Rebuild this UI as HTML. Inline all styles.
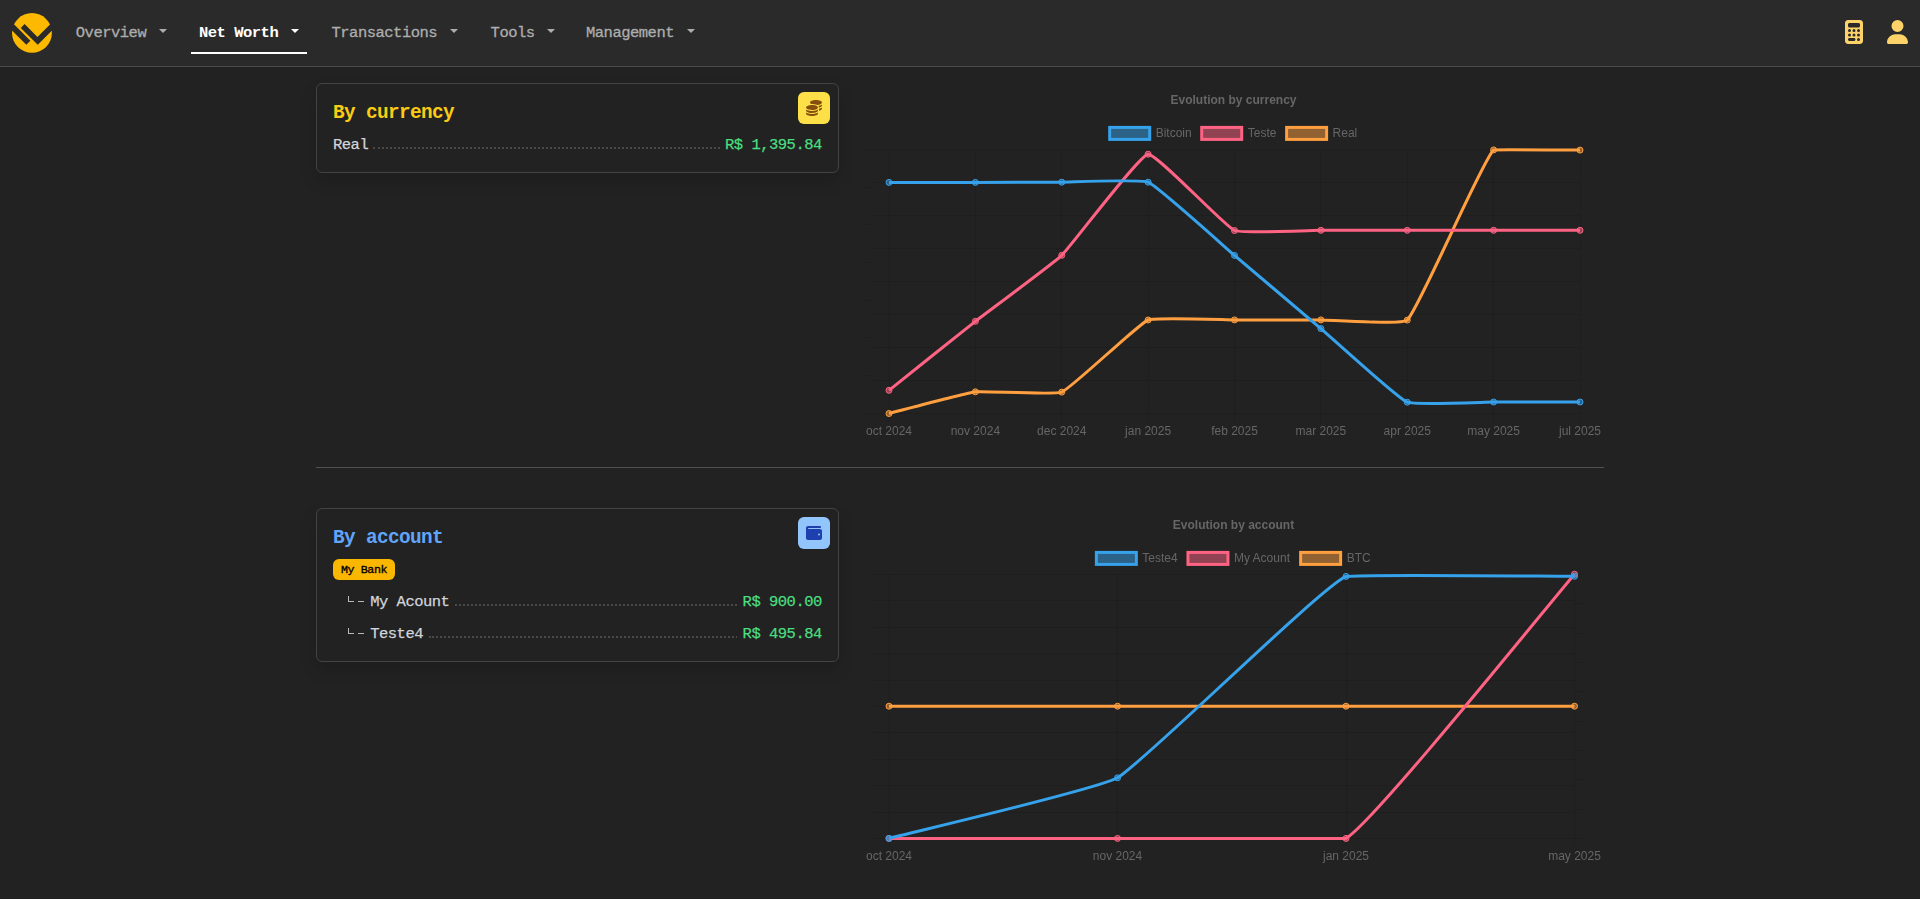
<!DOCTYPE html>
<html lang="en"><head><meta charset="utf-8"><title>Net Worth</title>
<style>
*{box-sizing:border-box}
html,body{margin:0;padding:0}
body{width:1920px;height:899px;overflow:hidden;position:relative;background:#222222;font-family:"Liberation Mono",monospace;font-size:15.5px;letter-spacing:-0.5px;color:#d1d5db}
.abs{position:absolute}
nav{position:absolute;left:0;top:0;width:1920px;height:67px;background:#2a2a2a;border-bottom:1px solid #4a4a4a}
.nl{position:absolute;top:23px;height:20px;line-height:20px;white-space:pre;color:#adadad;font-size:15.5px;-webkit-text-stroke:0.3px #adadad}
.nl.act{color:#fff;font-weight:bold;-webkit-text-stroke:0}
.caret{position:absolute;top:29px;width:0;height:0;border-left:4.8px solid transparent;border-right:4.8px solid transparent;border-top:4.8px solid #adadad}
.caret.act{border-top-color:#fff}
.card{position:absolute;left:316px;width:523px;border:1px solid #434343;border-radius:6px;background:#222222;box-shadow:0 8px 16px rgba(0,0,0,.15)}
.h5{position:absolute;left:333px;font-size:19.4px;letter-spacing:-0.64px;font-weight:bold;line-height:24px;white-space:pre}
.ib{position:absolute;left:798px;width:32px;height:32px;border-radius:6px}
.row{position:absolute;height:20px;line-height:20px;white-space:pre;font-size:15.5px;-webkit-text-stroke:0.25px currentColor}
.amt{color:#4ade80}
.dots{position:absolute;height:2px;background-image:repeating-linear-gradient(90deg,#4a4a4a 0,#4a4a4a 2px,transparent 2px,transparent 4px)}
.chart{position:absolute;overflow:visible;will-change:transform}
.ct{font-family:"Liberation Sans",sans-serif;font-size:12px;fill:#666;letter-spacing:0}
.badge{position:absolute;left:333px;top:559px;width:62px;height:21px;border-radius:6px;background:#fbb700;color:#000;-webkit-text-stroke:0.35px #000;font-size:11.64px;letter-spacing:-0.38px;line-height:21.6px;text-align:center;white-space:pre}
.tr{position:absolute;background:#b5b8bd}
</style></head><body>
<nav>
<svg class="abs" style="left:0;top:0" width="64" height="66" viewBox="0 0 64 66"><ellipse cx="31.970" cy="32.950" rx="19.950" ry="19.850" fill="#fcb900"/><g fill="#2a2a2a"><polygon points="5,15.340 30.380,40.720 26.300,44.800 5,23.500"/><polygon points="24.565,24.085 37.465,36.985 58,16.450 58,24.600 37.750,44.850 20.775,27.875"/></g></svg>
<span class="nl" style="left:75.800px">Overview</span><i class="caret" style="left:158.800px"></i>
<span class="nl act" style="left:199px">Net Worth</span><i class="caret act" style="left:290.700px"></i>
<div class="abs" style="left:191px;top:52px;width:116px;height:2px;background:#fff"></div>
<span class="nl" style="left:331.500px">Transactions</span><i class="caret" style="left:449.600px"></i>
<span class="nl" style="left:490.600px">Tools</span><i class="caret" style="left:546.600px"></i>
<span class="nl" style="left:586px">Management</span><i class="caret" style="left:686.500px"></i>
<svg class="abs" style="left:1845px;top:20px" width="18" height="24" viewBox="0 0 384 512"><path fill="#fcd269" d="M64 0C28.7 0 0 28.7 0 64V448c0 35.3 28.7 64 64 64H320c35.3 0 64-28.7 64-64V64c0-35.3-28.7-64-64-64H64zM96 64H288c17.700 0 32 14.300 32 32v32c0 17.700-14.300 32-32 32H96c-17.700 0-32-14.300-32-32V96c0-17.700 14.300-32 32-32zm32 160a32 32 0 1 1 -64 0 32 32 0 1 1 64 0zM96 352a32 32 0 1 1 0-64 32 32 0 1 1 0 64zM64 416c0-17.700 14.300-32 32-32h96c17.700 0 32 14.300 32 32s-14.300 32-32 32H96c-17.700 0-32-14.300-32-32zM192 256a32 32 0 1 1 0-64 32 32 0 1 1 0 64zm32 64a32 32 0 1 1 -64 0 32 32 0 1 1 64 0zm64-64a32 32 0 1 1 0-64 32 32 0 1 1 0 64zm32 64a32 32 0 1 1 -64 0 32 32 0 1 1 64 0zM288 448a32 32 0 1 1 0-64 32 32 0 1 1 0 64z"/></svg>
<svg class="abs" style="left:1887px;top:20px" width="21" height="24" viewBox="0 0 448 512"><path fill="#fcd269" d="M224 256A128 128 0 1 0 224 0a128 128 0 1 0 0 256zm-45.7 48C79.800 304 0 383.800 0 482.300C0 498.700 13.300 512 29.700 512H418.300c16.400 0 29.700-13.300 29.700-29.700C448 383.800 368.200 304 269.700 304H178.300z"/></svg>
</nav>

<div class="card" style="top:83px;height:90px"></div>
<div class="h5" style="top:101px;color:#facc15">By currency</div>
<div class="ib" style="top:92px;background:#fde047"><svg class="abs" style="left:8px;top:8px" width="16" height="16" viewBox="0 0 512 512"><path fill="#854d0e" d="M512 80c0 18-14.300 34.600-38.400 48c-29.100 16.100-72.500 27.500-122.300 30.900c-3.700-1.800-7.400-3.500-11.300-5C300.600 137.400 248.200 128 192 128c-8.300 0-16.400 .2-24.500 .6l-1.100-.6C142.300 114.600 128 98 128 80c0-44.200 86-80 192-80S512 35.800 512 80zM160.700 161.100c10.200-.7 20.700-1.100 31.300-1.100c62.200 0 117.400 12.300 152.500 31.400C369.300 204.900 384 221.700 384 240c0 4-.7 7.900-2.100 11.700c-4.600 13.200-17 25.300-35 35.500c0 0 0 0 0 0c-.1 .1-.3 .1-.4 .2l0 0 0 0c-.3 .2-.6 .3-.9 .5c-35 19.400-90.800 32-153.600 32c-59.600 0-112.900-11.300-148.200-29.100c-1.900-.9-3.700-1.900-5.500-2.900C14.300 274.600 0 258 0 240c0-34.800 53.400-64.500 128-75.400c10.500-1.500 21.400-2.700 32.700-3.500zM416 240c0-21.900-10.600-39.900-24.100-53.400c28.300-4.400 54.200-11.400 76.200-20.500c16.300-6.800 31.500-15.200 43.900-25.500V176c0 19.300-16.500 37.100-43.800 50.900c-14.600 7.400-32.400 13.700-52.400 18.500c.1-1.800 .2-3.500 .2-5.300zm-32 96c0 18-14.300 34.600-38.400 48c-1.800 1-3.600 1.900-5.500 2.900C304.900 404.700 251.600 416 192 416c-62.800 0-118.600-12.600-153.600-32C14.300 370.600 0 354 0 336V300.600c12.500 10.300 27.600 18.700 43.900 25.500C83.400 342.600 135.800 352 192 352s108.600-9.400 148.100-25.900c7.800-3.200 15.300-6.900 22.400-10.900c6.100-3.400 11.800-7.200 17.200-11.200c1.500-1.100 2.900-2.300 4.300-3.400V304v5.700V336zm32 0V304 278.100c19-4.200 36.500-9.500 52.100-16c16.300-6.800 31.500-15.200 43.900-25.500V272c0 10.500-5 21-14.900 30.900c-16.300 16.300-45 29.700-81.300 38.400c.1-1.700 .2-3.500 .2-5.300zM192 448c56.200 0 108.600-9.400 148.100-25.900c16.300-6.800 31.500-15.200 43.900-25.500V432c0 44.200-86 80-192 80S0 476.200 0 432V396.600c12.500 10.300 27.600 18.700 43.900 25.500C83.400 438.600 135.800 448 192 448z"/></svg></div>
<div class="row" style="left:333px;top:135px">Real</div>
<div class="dots" style="left:373px;top:147px;width:2px"></div><div class="dots" style="left:378px;top:147px;width:342px"></div>
<div class="row amt" style="left:725px;top:135px">R$ 1,395.84</div>

<div class="abs" style="left:316px;top:467px;width:1288px;height:1px;background:#515151"></div>

<div class="card" style="top:508px;height:154px"></div>
<div class="h5" style="top:526px;color:#60a5fa">By account</div>
<div class="ib" style="top:517px;background:#93c5fd"><svg class="abs" style="left:8px;top:8px" width="16" height="16" viewBox="0 0 512 512"><path fill="#1e40af" d="M64 32C28.700 32 0 60.700 0 96V416c0 35.300 28.700 64 64 64H448c35.300 0 64-28.700 64-64V192c0-35.300-28.700-64-64-64H80c-8.800 0-16-7.200-16-16s7.200-16 16-16H448c17.700 0 32-14.300 32-32s-14.300-32-32-32H64zM416 272a32 32 0 1 1 0 64 32 32 0 1 1 0-64z"/></svg></div>
<div class="badge">My Bank</div>
<i class="tr" style="left:347.700px;top:596px;width:1.200px;height:6px"></i><i class="tr" style="left:347.700px;top:601px;width:6.300px;height:1.100px"></i><i class="tr" style="left:357.800px;top:601px;width:6.300px;height:1.100px"></i>
<div class="row" style="left:370.200px;top:592px">My Acount</div>
<div class="dots" style="left:455px;top:604px;width:282px"></div>
<div class="row amt" style="left:742.600px;top:592px">R$ 900.00</div>
<i class="tr" style="left:347.700px;top:628px;width:1.200px;height:6px"></i><i class="tr" style="left:347.700px;top:633px;width:6.300px;height:1.100px"></i><i class="tr" style="left:357.800px;top:633px;width:6.300px;height:1.100px"></i>
<div class="row" style="left:370.200px;top:624px">Teste4</div>
<div class="dots" style="left:429px;top:636px;width:2px"></div><div class="dots" style="left:432px;top:636px;width:305px"></div>
<div class="row amt" style="left:742.600px;top:624px">R$ 495.84</div>
<svg class="chart" style="left:863px;top:83px" width="741" height="360" viewBox="0 0 741 360">
<g stroke="#1e1e1e" stroke-width="1" shape-rendering="auto"><line x1="2.00" y1="66.50" x2="717.00" y2="66.50"/><line x1="10.00" y1="99.50" x2="717.00" y2="99.50"/><line x1="10.00" y1="132.50" x2="717.00" y2="132.50"/><line x1="10.00" y1="165.50" x2="717.00" y2="165.50"/><line x1="10.00" y1="198.50" x2="717.00" y2="198.50"/><line x1="10.00" y1="231.50" x2="717.00" y2="231.50"/><line x1="10.00" y1="264.50" x2="717.00" y2="264.50"/><line x1="10.00" y1="297.50" x2="717.00" y2="297.50"/><line x1="2.00" y1="330.50" x2="717.00" y2="330.50"/><line x1="26.50" y1="66.40" x2="26.50" y2="338.40"/><line x1="112.50" y1="66.40" x2="112.50" y2="338.40"/><line x1="198.50" y1="66.40" x2="198.50" y2="338.40"/><line x1="285.50" y1="66.40" x2="285.50" y2="338.40"/><line x1="371.50" y1="66.40" x2="371.50" y2="338.40"/><line x1="457.50" y1="66.40" x2="457.50" y2="338.40"/><line x1="544.50" y1="66.40" x2="544.50" y2="338.40"/><line x1="630.50" y1="66.40" x2="630.50" y2="338.40"/><line x1="717.50" y1="66.40" x2="717.50" y2="338.40"/><line x1="2.00" y1="104.50" x2="10.00" y2="104.50"/><line x1="2.00" y1="141.50" x2="10.00" y2="141.50"/><line x1="2.00" y1="179.50" x2="10.00" y2="179.50"/><line x1="2.00" y1="217.50" x2="10.00" y2="217.50"/><line x1="2.00" y1="254.50" x2="10.00" y2="254.50"/><line x1="2.00" y1="292.50" x2="10.00" y2="292.50"/></g>
<text x="370.50" y="21.00" text-anchor="middle" font-weight="bold" class="ct">Evolution by currency</text>
<rect x="246.70" y="44.40" width="40" height="12" fill="rgba(54,162,235,0.5)" stroke="rgb(54,162,235)" stroke-width="3"/><text x="292.70" y="54.00" class="ct">Bitcoin</text><rect x="338.71" y="44.40" width="40" height="12" fill="rgba(255,99,132,0.5)" stroke="rgb(255,99,132)" stroke-width="3"/><text x="384.71" y="54.00" class="ct">Teste</text><rect x="423.62" y="44.40" width="40" height="12" fill="rgba(255,159,64,0.5)" stroke="rgb(255,159,64)" stroke-width="3"/><text x="469.62" y="54.00" class="ct">Real</text>
<clipPath id="clipa"><rect x="24.50" y="64.90" width="694.00" height="267.00"/></clipPath>
<path d="M26.00 330.50 C34.64 328.33 103.61 309.89 112.38 308.80 C120.88 307.75 191.25 312.22 198.75 309.10 C208.52 305.04 275.35 241.08 285.12 237.00 C292.63 233.86 362.86 236.91 371.50 236.90 C380.14 236.90 449.24 236.89 457.88 236.90 C466.51 236.91 538.87 242.40 544.25 237.10 C556.14 225.40 618.73 78.60 630.62 66.90 C636.01 66.40 708.36 67.08 717.00 67.10" fill="none" stroke="rgb(255,159,64)" stroke-width="3" stroke-linejoin="miter" clip-path="url(#clipa)"/>
<circle cx="26.00" cy="330.50" r="3" fill="rgba(255,159,64,0.5)" stroke="rgb(255,159,64)" stroke-width="1"/>
<circle cx="112.38" cy="308.80" r="3" fill="rgba(255,159,64,0.5)" stroke="rgb(255,159,64)" stroke-width="1"/>
<circle cx="198.75" cy="309.10" r="3" fill="rgba(255,159,64,0.5)" stroke="rgb(255,159,64)" stroke-width="1"/>
<circle cx="285.12" cy="237.00" r="3" fill="rgba(255,159,64,0.5)" stroke="rgb(255,159,64)" stroke-width="1"/>
<circle cx="371.50" cy="236.90" r="3" fill="rgba(255,159,64,0.5)" stroke="rgb(255,159,64)" stroke-width="1"/>
<circle cx="457.88" cy="236.90" r="3" fill="rgba(255,159,64,0.5)" stroke="rgb(255,159,64)" stroke-width="1"/>
<circle cx="544.25" cy="237.10" r="3" fill="rgba(255,159,64,0.5)" stroke="rgb(255,159,64)" stroke-width="1"/>
<circle cx="630.62" cy="66.90" r="3" fill="rgba(255,159,64,0.5)" stroke="rgb(255,159,64)" stroke-width="1"/>
<circle cx="717.00" cy="67.10" r="3" fill="rgba(255,159,64,0.5)" stroke="rgb(255,159,64)" stroke-width="1"/>
<path d="M26.00 307.30 C34.64 300.40 103.66 245.11 112.38 238.30 C120.94 231.61 190.98 179.82 198.75 172.30 C208.25 163.11 275.87 72.53 285.12 71.20 C293.15 70.05 361.63 143.15 371.50 147.50 C378.90 150.76 449.24 147.31 457.88 147.30 C466.51 147.29 535.61 147.30 544.25 147.30 C552.89 147.30 621.99 147.30 630.62 147.30 C639.26 147.30 708.36 147.30 717.00 147.30" fill="none" stroke="rgb(255,99,132)" stroke-width="3" stroke-linejoin="miter" clip-path="url(#clipa)"/>
<circle cx="26.00" cy="307.30" r="3" fill="rgba(255,99,132,0.5)" stroke="rgb(255,99,132)" stroke-width="1"/>
<circle cx="112.38" cy="238.30" r="3" fill="rgba(255,99,132,0.5)" stroke="rgb(255,99,132)" stroke-width="1"/>
<circle cx="198.75" cy="172.30" r="3" fill="rgba(255,99,132,0.5)" stroke="rgb(255,99,132)" stroke-width="1"/>
<circle cx="285.12" cy="71.20" r="3" fill="rgba(255,99,132,0.5)" stroke="rgb(255,99,132)" stroke-width="1"/>
<circle cx="371.50" cy="147.50" r="3" fill="rgba(255,99,132,0.5)" stroke="rgb(255,99,132)" stroke-width="1"/>
<circle cx="457.88" cy="147.30" r="3" fill="rgba(255,99,132,0.5)" stroke="rgb(255,99,132)" stroke-width="1"/>
<circle cx="544.25" cy="147.30" r="3" fill="rgba(255,99,132,0.5)" stroke="rgb(255,99,132)" stroke-width="1"/>
<circle cx="630.62" cy="147.30" r="3" fill="rgba(255,99,132,0.5)" stroke="rgb(255,99,132)" stroke-width="1"/>
<circle cx="717.00" cy="147.30" r="3" fill="rgba(255,99,132,0.5)" stroke="rgb(255,99,132)" stroke-width="1"/>
<path d="M26.00 99.40 C34.64 99.40 103.74 99.41 112.38 99.40 C121.01 99.39 190.11 99.21 198.75 99.20 C207.39 99.19 277.65 96.03 285.12 99.20 C294.92 103.35 362.86 165.08 371.50 172.40 C380.14 179.72 449.25 238.27 457.88 245.60 C466.52 252.95 534.44 315.03 544.25 319.20 C551.72 322.37 621.99 319.01 630.62 319.00 C639.26 318.99 708.36 319.00 717.00 319.00" fill="none" stroke="rgb(54,162,235)" stroke-width="3" stroke-linejoin="miter" clip-path="url(#clipa)"/>
<circle cx="26.00" cy="99.40" r="3" fill="rgba(54,162,235,0.5)" stroke="rgb(54,162,235)" stroke-width="1"/>
<circle cx="112.38" cy="99.40" r="3" fill="rgba(54,162,235,0.5)" stroke="rgb(54,162,235)" stroke-width="1"/>
<circle cx="198.75" cy="99.20" r="3" fill="rgba(54,162,235,0.5)" stroke="rgb(54,162,235)" stroke-width="1"/>
<circle cx="285.12" cy="99.20" r="3" fill="rgba(54,162,235,0.5)" stroke="rgb(54,162,235)" stroke-width="1"/>
<circle cx="371.50" cy="172.40" r="3" fill="rgba(54,162,235,0.5)" stroke="rgb(54,162,235)" stroke-width="1"/>
<circle cx="457.88" cy="245.60" r="3" fill="rgba(54,162,235,0.5)" stroke="rgb(54,162,235)" stroke-width="1"/>
<circle cx="544.25" cy="319.20" r="3" fill="rgba(54,162,235,0.5)" stroke="rgb(54,162,235)" stroke-width="1"/>
<circle cx="630.62" cy="319.00" r="3" fill="rgba(54,162,235,0.5)" stroke="rgb(54,162,235)" stroke-width="1"/>
<circle cx="717.00" cy="319.00" r="3" fill="rgba(54,162,235,0.5)" stroke="rgb(54,162,235)" stroke-width="1"/>
<text x="26.00" y="352.00" text-anchor="middle" class="ct">oct 2024</text>
<text x="112.38" y="352.00" text-anchor="middle" class="ct">nov 2024</text>
<text x="198.75" y="352.00" text-anchor="middle" class="ct">dec 2024</text>
<text x="285.12" y="352.00" text-anchor="middle" class="ct">jan 2025</text>
<text x="371.50" y="352.00" text-anchor="middle" class="ct">feb 2025</text>
<text x="457.88" y="352.00" text-anchor="middle" class="ct">mar 2025</text>
<text x="544.25" y="352.00" text-anchor="middle" class="ct">apr 2025</text>
<text x="630.62" y="352.00" text-anchor="middle" class="ct">may 2025</text>
<text x="717.00" y="352.00" text-anchor="middle" class="ct">jul 2025</text>
</svg>
<svg class="chart" style="left:863px;top:508px" width="741" height="360" viewBox="0 0 741 360">
<g stroke="#1e1e1e" stroke-width="1" shape-rendering="auto"><line x1="10.00" y1="66.50" x2="711.50" y2="66.50"/><line x1="10.00" y1="92.50" x2="711.50" y2="92.50"/><line x1="10.00" y1="119.50" x2="711.50" y2="119.50"/><line x1="10.00" y1="145.50" x2="711.50" y2="145.50"/><line x1="10.00" y1="172.50" x2="711.50" y2="172.50"/><line x1="10.00" y1="198.50" x2="711.50" y2="198.50"/><line x1="10.00" y1="224.50" x2="711.50" y2="224.50"/><line x1="10.00" y1="251.50" x2="711.50" y2="251.50"/><line x1="10.00" y1="277.50" x2="711.50" y2="277.50"/><line x1="10.00" y1="304.50" x2="711.50" y2="304.50"/><line x1="10.00" y1="330.50" x2="711.50" y2="330.50"/><line x1="26.50" y1="66.40" x2="26.50" y2="338.40"/><line x1="254.50" y1="66.40" x2="254.50" y2="338.40"/><line x1="483.50" y1="66.40" x2="483.50" y2="338.40"/><line x1="711.50" y1="66.40" x2="711.50" y2="338.40"/><line x1="711.50" y1="66.50" x2="719.50" y2="66.50"/><line x1="711.50" y1="95.50" x2="719.50" y2="95.50"/><line x1="711.50" y1="125.50" x2="719.50" y2="125.50"/><line x1="711.50" y1="154.50" x2="719.50" y2="154.50"/><line x1="711.50" y1="183.50" x2="719.50" y2="183.50"/><line x1="711.50" y1="213.50" x2="719.50" y2="213.50"/><line x1="711.50" y1="242.50" x2="719.50" y2="242.50"/><line x1="711.50" y1="271.50" x2="719.50" y2="271.50"/><line x1="711.50" y1="301.50" x2="719.50" y2="301.50"/><line x1="711.50" y1="330.50" x2="719.50" y2="330.50"/></g>
<text x="370.50" y="21.00" text-anchor="middle" font-weight="bold" class="ct">Evolution by account</text>
<rect x="233.36" y="44.40" width="40" height="12" fill="rgba(54,162,235,0.5)" stroke="rgb(54,162,235)" stroke-width="3"/><text x="279.36" y="54.00" class="ct">Teste4</text><rect x="324.95" y="44.40" width="40" height="12" fill="rgba(255,99,132,0.5)" stroke="rgb(255,99,132)" stroke-width="3"/><text x="370.95" y="54.00" class="ct">My Acount</text><rect x="437.64" y="44.40" width="40" height="12" fill="rgba(255,159,64,0.5)" stroke="rgb(255,159,64)" stroke-width="3"/><text x="483.64" y="54.00" class="ct">BTC</text>
<clipPath id="clipb"><rect x="24.50" y="64.90" width="688.50" height="267.00"/></clipPath>
<path d="M26.00 198.20 C48.85 198.20 231.65 198.20 254.50 198.20 C277.35 198.20 460.15 198.20 483.00 198.20 C505.85 198.20 688.65 198.20 711.50 198.20" fill="none" stroke="rgb(255,159,64)" stroke-width="3" stroke-linejoin="miter" clip-path="url(#clipb)"/>
<circle cx="26.00" cy="198.20" r="3" fill="rgba(255,159,64,0.5)" stroke="rgb(255,159,64)" stroke-width="1"/>
<circle cx="254.50" cy="198.20" r="3" fill="rgba(255,159,64,0.5)" stroke="rgb(255,159,64)" stroke-width="1"/>
<circle cx="483.00" cy="198.20" r="3" fill="rgba(255,159,64,0.5)" stroke="rgb(255,159,64)" stroke-width="1"/>
<circle cx="711.50" cy="198.20" r="3" fill="rgba(255,159,64,0.5)" stroke="rgb(255,159,64)" stroke-width="1"/>
<path d="M26.00 330.40 C48.85 330.40 231.65 330.40 254.50 330.40 C277.35 330.40 464.93 330.40 483.00 330.40 C510.63 314.43 688.65 92.62 711.50 66.20" fill="none" stroke="rgb(255,99,132)" stroke-width="3" stroke-linejoin="miter" clip-path="url(#clipb)"/>
<circle cx="26.00" cy="330.40" r="3" fill="rgba(255,99,132,0.5)" stroke="rgb(255,99,132)" stroke-width="1"/>
<circle cx="254.50" cy="330.40" r="3" fill="rgba(255,99,132,0.5)" stroke="rgb(255,99,132)" stroke-width="1"/>
<circle cx="483.00" cy="330.40" r="3" fill="rgba(255,99,132,0.5)" stroke="rgb(255,99,132)" stroke-width="1"/>
<circle cx="711.50" cy="66.20" r="3" fill="rgba(255,99,132,0.5)" stroke="rgb(255,99,132)" stroke-width="1"/>
<path d="M26.00 330.40 C48.85 324.34 234.53 281.25 254.50 269.80 C280.23 255.05 456.89 79.91 483.00 68.40 C502.59 66.40 688.65 68.31 711.50 68.30" fill="none" stroke="rgb(54,162,235)" stroke-width="3" stroke-linejoin="miter" clip-path="url(#clipb)"/>
<circle cx="26.00" cy="330.40" r="3" fill="rgba(54,162,235,0.5)" stroke="rgb(54,162,235)" stroke-width="1"/>
<circle cx="254.50" cy="269.80" r="3" fill="rgba(54,162,235,0.5)" stroke="rgb(54,162,235)" stroke-width="1"/>
<circle cx="483.00" cy="68.40" r="3" fill="rgba(54,162,235,0.5)" stroke="rgb(54,162,235)" stroke-width="1"/>
<circle cx="711.50" cy="68.30" r="3" fill="rgba(54,162,235,0.5)" stroke="rgb(54,162,235)" stroke-width="1"/>
<text x="26.00" y="352.00" text-anchor="middle" class="ct">oct 2024</text>
<text x="254.50" y="352.00" text-anchor="middle" class="ct">nov 2024</text>
<text x="483.00" y="352.00" text-anchor="middle" class="ct">jan 2025</text>
<text x="711.50" y="352.00" text-anchor="middle" class="ct">may 2025</text>
</svg>
</body></html>
